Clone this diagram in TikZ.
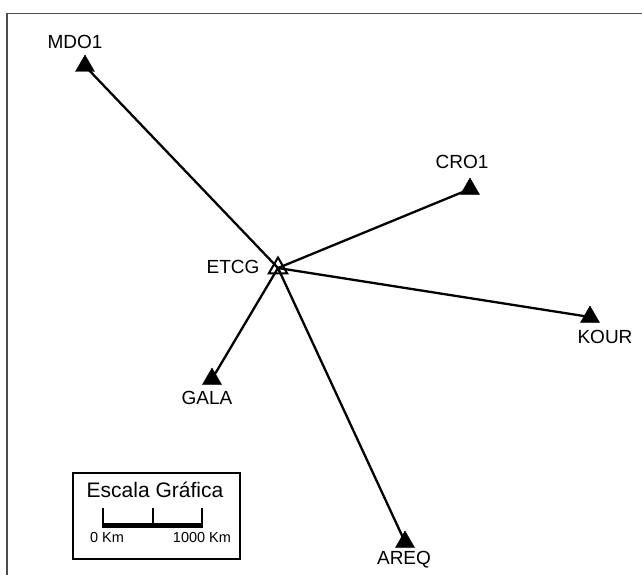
\documentclass[tikz,border=0pt]{standalone}
\usepackage{fontspec}
\setmainfont{Liberation Sans}
\usetikzlibrary{shapes.geometric}
\begin{document}
\begin{tikzpicture}[x=1pt,y=-1pt,
  station/.style={regular polygon,regular polygon sides=3,fill=black,draw=black,inner sep=0pt,minimum size=22pt},
  hollowstation/.style={regular polygon,regular polygon sides=3,draw=black,line width=2pt,fill=none,inner sep=0pt,minimum size=21pt},
  lbl/.style={font=\fontsize{19}{22}\selectfont,inner sep=0pt},
  link/.style={line width=2.3pt,black},
  small/.style={font=\fontsize{14.5}{17}\selectfont,inner sep=0pt,anchor=base}]
\useasboundingbox (0,0) rectangle (642,575);
\fill[white] (0,0) rectangle (642,575);
% frame
\draw[line width=1.8pt,black!70] (7,575) -- (7,13.5) -- (642,13.5);
% stations
\node[station] (mdo) at (85,66) {};
\node[station] (cro) at (470,189) {};
\node[station] (kour) at (590,317) {};
\node[station] (gala) at (212,379) {};
\node[station] (areq) at (405,542) {};
\node[hollowstation] (etcg) at (278,268) {};
% links
\draw[link] (etcg.center) -- (mdo.center);
\draw[link] (etcg.center) -- (cro.center);
\draw[link] (etcg.center) -- (kour.center);
\draw[link] (etcg.center) -- (gala.center);
\draw[link] (etcg.center) -- (areq.center);
% labels
\node[lbl] (lmdo) at (75,42) {MDO1};
\node[lbl] (lcro) at (462,162) {CRO1};
\node[lbl] (letcg) at (233,267) {ETCG};
\node[lbl] (lkour) at (605,337) {KOUR};
\node[lbl] (lgala) at (207,398) {GALA};
\node[lbl] (lareq) at (404,560) {AREQ};
% scale box
\draw[line width=1.6pt] (73,473) rectangle (240,559);
\node[font=\fontsize{21}{24}\selectfont,inner sep=0pt,anchor=base] (title) at (155,497) {Escala Gráfica};
\draw[line width=5pt] (102,525) -- (203,525);
\draw[line width=2.2pt] (103,508) -- (103,525);
\draw[line width=2.2pt] (153,508) -- (153,525);
\draw[line width=2.2pt] (202,508) -- (202,525);
\node[small] (zero) at (107,542) {0 Km};
\node[small] (thou) at (202,542) {1000 Km};
\end{tikzpicture}
\end{document}
